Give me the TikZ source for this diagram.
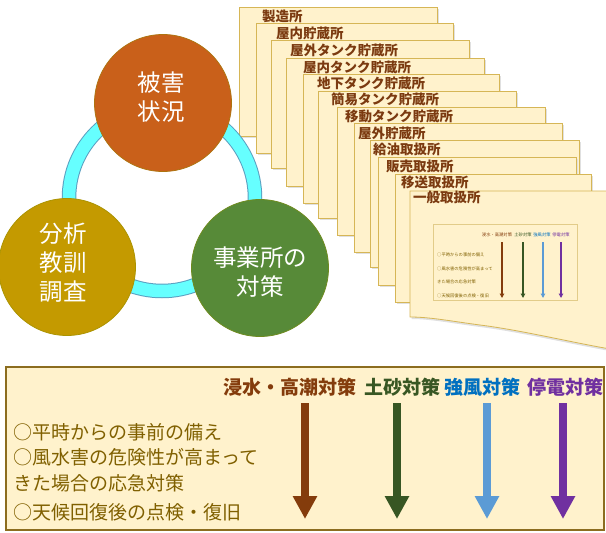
\documentclass[tikz,border=0pt]{standalone}
\usepackage{fontspec}
\setmainfont{Noto Sans CJK JP}
\usetikzlibrary{arrows.meta}
\definecolor{cardfill}{HTML}{FFF2CC}
\definecolor{cardedge}{HTML}{D6B656}
\definecolor{labelbrown}{HTML}{7B3A10}
\definecolor{ringcyan}{HTML}{66FFFF}
\definecolor{ringedge}{HTML}{5A9FC0}
\definecolor{corange}{HTML}{C9601A}
\definecolor{cgold}{HTML}{C49A00}
\definecolor{cgreen}{HTML}{578A38}
\definecolor{hbrown}{HTML}{843C0C}
\definecolor{hgreen}{HTML}{385723}
\definecolor{hblue}{HTML}{0070C0}
\definecolor{hpurple}{HTML}{7030A0}
\definecolor{agreen}{HTML}{375623}
\definecolor{ablue}{HTML}{5B9BD5}
\definecolor{olivetext}{HTML}{806000}
\definecolor{boxedge}{HTML}{8C6D1F}
\tikzset{
  card/.style={fill=cardfill, draw=cardedge, line width=0.8pt},
  cardshadow/.style={fill=black!12},
  cardlabel/.style={anchor=west, inner sep=0pt, text=labelbrown, font=\fontsize{13.5}{15}\selectfont\bfseries},
  bigcirc/.style={circle, minimum size=137pt, inner sep=0pt, draw=#1!70!yellow!80!black, line width=0.8pt, fill=#1},
  circtext/.style={align=center, inner sep=0pt, text=white, font=\fontsize{23.5}{29}\selectfont},
  header/.style={inner sep=0pt, font=\fontsize{19}{22}\selectfont\bfseries},
  bodytext/.style={anchor=west, inner sep=0pt, text=olivetext, font=\fontsize{19}{22}\selectfont},
  bigarrow/.style={line width=8pt, -{Triangle[width=23pt,length=23pt]}},
  miniheader/.style={inner sep=0pt, font=\fontsize{4.3}{5}\selectfont},
  minitext/.style={anchor=west, inner sep=0pt, text=olivetext, font=\fontsize{4.3}{5}\selectfont},
  miniarrow/.style={line width=1.5pt, -{Triangle[width=4.5pt,length=4.5pt]}},
}
\begin{document}
\begin{tikzpicture}[x=1pt,y=-1pt]
\useasboundingbox (0,0) rectangle (606,533);

% ---- stack of cards ----
\foreach \l/\t/\r/\b/\tx/\ty/\name [count=\i] in {
 239/7/437/136/262/16/製造所,
 256/23/453/153/276/33/屋内貯蔵所,
 271/40/469/168/290/50/屋外タンク貯蔵所,
 286/58/484/186/303/67/屋内タンク貯蔵所,
 303/74/499/203/317/83/地下タンク貯蔵所,
 318/91/516/218/331/99/簡易タンク貯蔵所,
 337/107/545/235/345/116/移動タンク貯蔵所,
 354/123/562/252/358/133/屋外貯蔵所,
 370/140/579/267/373/149/給油取扱所,
 378/157/576/285/386/166/販売取扱所,
 395/174/591/302/401/182/移送取扱所}
{
 \fill[cardshadow] (\l+1.5,\t+1.5) rectangle (\r+1.5,\b+1.5);
 \draw[card] (\l,\t) rectangle (\r,\b);
 \node[cardlabel] (card\i) at (\tx,\ty) {\name};
}
% front card with wavy bottom
\fill[cardshadow] (411.5,192.5) -- (610,192.5) -- (610,351) .. controls (570,344) and (520,332) .. (480,327)
  .. controls (450,323) and (430,319) .. (411.5,319) -- cycle;
\draw[card] (410,191) -- (610,191) -- (610,349) .. controls (570,342) and (520,330) .. (480,325)
  .. controls (450,321) and (430,317) .. (410,317) -- cycle;
\node[cardlabel] (card12) at (413,197) {一般取扱所};

% mini panel inside front card
\draw[fill=cardfill, draw=cardedge!70, line width=0.5pt] (433,224) rectangle (577,300);
\node[miniheader, text=hbrown] (mh1) at (497,235) {浸水・高潮対策};
\node[miniheader, text=hgreen] (mh2) at (523,235) {土砂対策};
\node[miniheader, text=hblue] (mh3) at (542,235) {強風対策};
\node[miniheader, text=hpurple] (mh4) at (561,235) {停電対策};
\coordinate (ms1) at (502,242); \coordinate (me1) at (502,298);
\coordinate (ms2) at (523,242); \coordinate (me2) at (523,298);
\coordinate (ms3) at (543,242); \coordinate (me3) at (543,298);
\coordinate (ms4) at (561,242); \coordinate (me4) at (561,298);
\draw[miniarrow, hbrown] (ms1) -- (me1);
\draw[miniarrow, agreen] (ms2) -- (me2);
\draw[miniarrow, ablue] (ms3) -- (me3);
\draw[miniarrow, hpurple] (ms4) -- (me4);
\node[minitext] (mt1) at (437,255) {○平時からの事前の備え};
\node[minitext] (mt2) at (437,269) {○風水害の危険性が高まって};
\node[minitext] (mt3) at (437,282) {きた場合の応急対策};
\node[minitext] (mt4) at (437,296) {○天候回復後の点検・復旧};

% ---- cycle ----
\draw[ringedge, line width=14.5pt] (162,198) circle (93);
\draw[ringcyan, line width=12.5pt] (162,198) circle (93);
\node[bigcirc=corange] (damage) at (163,103) {};
\node[bigcirc=cgold] (analysis) at (67,267) {};
\node[bigcirc=cgreen] (measure) at (260,268) {};
\node[circtext] (damageT) at (161,97.5) {被害\\状況};
\node[circtext] (analysisT) at (63,262.5) {分析\\教訓\\調査};
\node[circtext] (measureT) at (260,272.5) {事業所の\\対策};

% ---- bottom panel ----
\draw[fill=cardfill, draw=boxedge, line width=1.2pt] (6,367) rectangle (604,530);
\node[header, text=hbrown] (h1) at (290,387) {浸水・高潮対策};
\node[header, text=hgreen] (h2) at (402,387) {土砂対策};
\node[header, text=hblue] (h3) at (482,387) {強風対策};
\node[header, text=hpurple] (h4) at (565,387) {停電対策};
\coordinate (s1) at (305,403); \coordinate (e1) at (305,519);
\coordinate (s2) at (397,403); \coordinate (e2) at (397,519);
\coordinate (s3) at (487,403); \coordinate (e3) at (487,519);
\coordinate (s4) at (563,403); \coordinate (e4) at (563,519);
\draw[bigarrow, hbrown] (s1) -- (e1);
\draw[bigarrow, agreen] (s2) -- (e2);
\draw[bigarrow, ablue] (s3) -- (e3);
\draw[bigarrow, hpurple] (s4) -- (e4);
\node[bodytext] (t1) at (13,432) {○平時からの事前の備え};
\node[bodytext] (t2) at (13,457) {○風水害の危険性が高まって};
\node[bodytext] (t3) at (13,483) {きた場合の応急対策};
\node[bodytext] (t4) at (13,512) {○天候回復後の点検・復旧};
\end{tikzpicture}
\end{document}
